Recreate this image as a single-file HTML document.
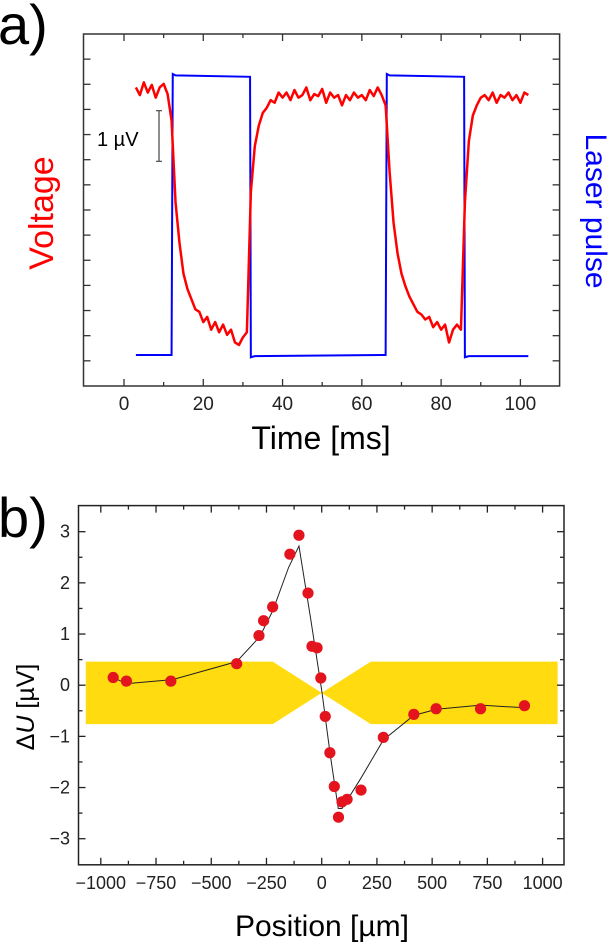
<!DOCTYPE html>
<html><head><meta charset="utf-8"><style>
html,body{margin:0;padding:0;background:#fff;}
svg{display:block;font-family:"Liberation Sans",sans-serif;}
</style></head><body>
<svg id="fig" width="614" height="943" viewBox="0 0 614 943" xmlns="http://www.w3.org/2000/svg">
<text x="-2" y="44" font-size="56">a)</text>
<text x="-2" y="537" font-size="56">b)</text>
<g id="top"></g>
<g id="bot"></g>
</svg>
<script>
// ---- Panel a data ----
const redT = [];
for (let t = 3; t <= 102; t++) redT.push(t);
const redV = [0.05,-0.1,0.15,-0.05,0.1,-0.15,0.05,0.12,-0.08,
-0.6,-2.2,-3.0,-3.6,-3.9,-4.1,-4.3,-4.35,-4.55,-4.45,-4.7,-4.55,-4.75,-4.6,-4.8,-4.7,-4.95,-5.0,-4.85,-4.75,
-2.0,-1.1,-0.7,-0.45,-0.35,-0.2,-0.25,-0.05,-0.15,
-0.05,-0.2,0.0,-0.15,-0.1,0.05,-0.2,-0.08,-0.12,0.02,-0.25,-0.05,-0.15,-0.1,-0.3,-0.1,-0.2,-0.05,-0.15,-0.1,-0.2,0.0,-0.12,0.05,-0.1,
-0.3,-1.6,-2.6,-3.2,-3.6,-3.85,-4.05,-4.2,-4.35,-4.4,-4.5,-4.45,-4.65,-4.55,-4.7,-4.6,-4.95,-4.7,-4.6,-4.7,
-2.2,-1.0,-0.5,-0.3,-0.15,
-0.1,-0.2,-0.05,-0.25,-0.1,-0.15,-0.05,-0.2,-0.1,-0.25,-0.05,-0.1];
const blueT = [3,12,12.3,13,31.8,32,33,66,66.3,67,85.8,86,87,102];
const blueL = [0,0,1.0,0.995,0.99,-0.008,-0.004,0,1.0,0.995,0.99,-0.008,-0.004,-0.004];
const topXTicks = [0,20,40,60,80,100];

// ---- Panel b data ----
const ptX = [-944,-884,-683,-385,-284,-263,-222,-144,-103,-62,-44,-21,-4,16,37,57,76,92,115,178,279,417,518,719,918];
const ptY = [0.15,0.08,0.08,0.42,0.97,1.26,1.53,2.56,2.93,1.80,0.76,0.73,0.14,-0.61,-1.32,-1.98,-2.58,-2.28,-2.23,-2.05,-1.02,-0.57,-0.46,-0.46,-0.40];
const fitX = [-944,-884,-675,-385,-280,-222,-150,-103,-50,0,40,75,92,180,279,417,520,719,918];
const fitY = [0.15,0.03,0.11,0.46,0.95,1.45,2.3,2.72,1.3,-0.1,-1.4,-2.41,-2.41,-1.8,-1.07,-0.59,-0.47,-0.39,-0.44];
const bandX = [-1068,-222,0,222,1068,1068,222,0,-222,-1068];
const bandY = [0.46,0.46,-0.15,0.46,0.46,-0.76,-0.76,-0.15,-0.76,-0.76];
const botXTicks = [-1000,-750,-500,-250,0,250,500,750,1000];
const botYTicks = [-3,-2,-1,0,1,2,3];

const NS = "http://www.w3.org/2000/svg";
function mk(parent, tag, attrs, text) {
  const e = document.createElementNS(NS, tag);
  for (const k in attrs) e.setAttribute(k, attrs[k]);
  if (text !== undefined) e.textContent = text;
  parent.appendChild(e);
  return e;
}
const fmt = v => (v < 0 ? "\u2212" + Math.abs(v) : "" + v);

// ===== Panel a =====
(function(){
  const g = document.getElementById('top');
  const L = 83.5, R = 559.6, T = 34, B = 386;
  const sx = t => 124 + t * 3.964;
  const sv = v => 90 - v * 51;
  const sb = l => 355 - l * 281;
  let e = mk(g, 'rect', {x:L, y:T, width:R-L, height:B-T, fill:'none', stroke:'#333', 'stroke-width':1.5});
  
  
  for (let t = -10; t <= 110; t += 10) {
    const x = sx(t); if (x < L+1 || x > R-1) continue;
    const len = t % 20 === 0 ? 7 : 4;
    mk(g, 'line', {x1:x, x2:x, y1:B, y2:B-len, stroke:'#333', 'stroke-width':1.3});
    mk(g, 'line', {x1:x, x2:x, y1:T, y2:T+len, stroke:'#333', 'stroke-width':1.3});
  }
  for (let i = 1; i < 14; i++) {
    const y = T + i * 25.14;
    mk(g, 'line', {x1:L, x2:L+7, y1:y, y2:y, stroke:'#333', 'stroke-width':1.3});
    mk(g, 'line', {x1:R, x2:R-7, y1:y, y2:y, stroke:'#333', 'stroke-width':1.3});
  }
  topXTicks.forEach(t => {
    const tl = mk(g, 'text', {x:sx(t), y:410, 'font-size':19, 'text-anchor':'middle', fill:'#222'}, t);
    
    
  });
  e = mk(g, 'text', {x:321, y:449, 'font-size':32, 'text-anchor':'middle', fill:'#000'}, 'Time [ms]');
  
  
  e = mk(g, 'text', {x:0, y:0, 'font-size':34, 'text-anchor':'middle', fill:'#ff0000', transform:'translate(53,213) rotate(-90)'}, 'Voltage');
  
  
  e = mk(g, 'text', {x:0, y:0, 'font-size':30, 'text-anchor':'middle', fill:'#0000ff', transform:'translate(586,211) rotate(90)'}, 'Laser pulse');
  
  
  e = mk(g, 'path', {d:'M156 110.7H162M159 110.7V161.3M156 161.3H162', stroke:'#444', 'stroke-width':1.2, fill:'none'});
  
  
  e = mk(g, 'text', {x:97, y:146, 'font-size':20, fill:'#000'}, '1 \u00b5V');
  
  
  e = mk(g, 'polyline', {points: blueT.map((t,i)=>sx(t)+','+sb(blueL[i])).join(' '), fill:'none', stroke:'#0000ff', 'stroke-width':2});
  
  
  e = mk(g, 'polyline', {points: redT.map((t,i)=>sx(t)+','+sv(redV[i])).join(' '), fill:'none', stroke:'#ff0000', 'stroke-width':2.5, 'stroke-linejoin':'round'});
  
  
})();

// ===== Panel b =====
(function(){
  const g = document.getElementById('bot');
  const L = 78.5, R = 564, T = 505.6, B = 864.8;
  const sx = x => 321.7 + x * 0.2209;
  const sy = y => 685.2 - y * 51.17;
  let e = mk(g, 'polygon', {points: bandX.map((x,i)=>sx(x)+','+sy(bandY[i])).join(' '), fill:'#ffdb10'});
  
  
  e = mk(g, 'rect', {x:L, y:T, width:R-L, height:B-T, fill:'none', stroke:'#222', 'stroke-width':1.5});
  
  
  for (let x = -1125; x <= 1125; x += 125) {
    const px = sx(x); if (px < L+1 || px > R-1) continue;
    const len = x % 250 === 0 ? 7 : 4;
    mk(g, 'line', {x1:px, x2:px, y1:B, y2:B-len, stroke:'#222', 'stroke-width':1.3});
    mk(g, 'line', {x1:px, x2:px, y1:T, y2:T+len, stroke:'#222', 'stroke-width':1.3});
  }
  for (let y = -3; y <= 3; y += 0.5) {
    const py = sy(y);
    const len = Number.isInteger(y) ? 7 : 4;
    mk(g, 'line', {x1:L, x2:L+len, y1:py, y2:py, stroke:'#222', 'stroke-width':1.3});
    mk(g, 'line', {x1:R, x2:R-len, y1:py, y2:py, stroke:'#222', 'stroke-width':1.3});
  }
  botXTicks.forEach(x => {
    const tl = mk(g, 'text', {x:sx(x), y:889, 'font-size':18, 'text-anchor':'middle', fill:'#222'}, fmt(x));
    
    
  });
  botYTicks.forEach(y => {
    const tl = mk(g, 'text', {x:70, y:sy(y)+6, 'font-size':18, 'text-anchor':'end', fill:'#222'}, fmt(y));
    
    
  });
  e = mk(g, 'text', {x:322, y:936, 'font-size':30, 'text-anchor':'middle', fill:'#000'}, 'Position [\u00b5m]');
  
  
  e = mk(g, 'text', {x:0, y:0, 'font-size':25, 'text-anchor':'middle', fill:'#000', transform:'translate(34,707) rotate(-90)'});
  
  
  mk(e, 'tspan', {}, '\u0394');
  mk(e, 'tspan', {'font-style':'italic'}, 'U');
  mk(e, 'tspan', {}, ' [\u00b5V]');
  e = mk(g, 'polyline', {points: fitX.map((x,i)=>sx(x)+','+sy(fitY[i])).join(' '), fill:'none', stroke:'#222', 'stroke-width':1});
  
  
  ptX.forEach((x,i) => {
    const c = mk(g, 'ellipse', {cx:sx(x), cy:sy(ptY[i]), rx:5.6, ry:5.6, fill:'#e3141e'});
    
    
  });
})();
</script>
</body></html>
